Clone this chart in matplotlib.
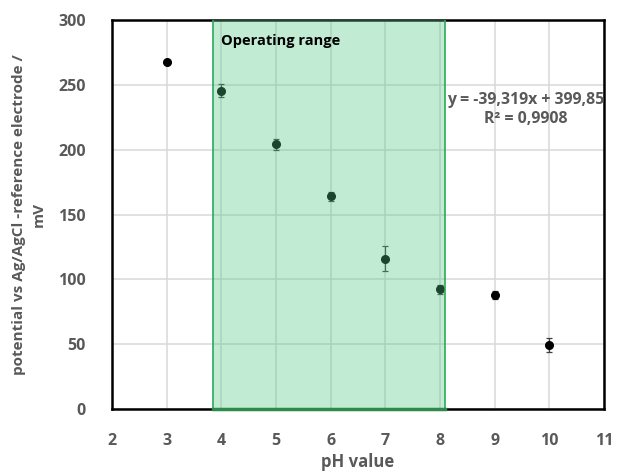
import numpy as np
import matplotlib.pyplot as plt
from matplotlib.patches import Rectangle

# data
ph = [3, 4, 5, 6, 7, 8, 9, 10]
potential = [268, 245.5, 204, 164, 116, 92.5, 88, 49.5]
err = [0, 5, 4, 3.5, 9.5, 3.5, 3, 5.5]
range_lo = 3.85  # operating range limits
range_hi = 8.1
fit_text = "y = -39,319x + 399,85\nR² = 0,9908"

plt.rcParams['font.family'] = ['Open Sans', 'DejaVu Sans']
grey = '#595959'

fig = plt.figure(figsize=(6.17, 4.73), dpi=100)
ax = fig.add_axes([0.1815, 0.1353, 0.7975, 0.8224])

# measured points with error bars
ax.errorbar(ph, potential, yerr=err, fmt='o', color='black', ms=5.5,
            ecolor='#404040', elinewidth=0.9, capsize=2.5, capthick=0.9, zorder=3)

# shaded operating range drawn on top of points (like the original)
rect = Rectangle((range_lo, 0), range_hi - range_lo, 300, facecolor='#4fc882',
                 alpha=0.35, edgecolor='none', zorder=4)
ax.add_patch(rect)
ax.plot([range_lo, range_lo], [0, 300], color='#2ea85a', lw=1.2, zorder=5)
ax.plot([range_hi, range_hi], [0, 300], color='#2ea85a', lw=1.2, zorder=5)
ax.plot([range_lo, range_hi], [0, 0], color='#2e8a4a', lw=2.5, zorder=6, clip_on=False)

ax.text(range_lo + 0.15, 284, "Operating range", fontsize=10.5, fontweight='bold',
        color='black', va='center', ha='left', zorder=7)
ax.text(9.56, 231, fit_text, fontsize=11.4, fontweight='bold', color=grey,
        ha='center', va='center', linespacing=1.3, zorder=7)

ax.set_xlim(2, 11)
ax.set_ylim(0, 300)
ax.set_xticks(np.arange(2, 12, 1))
ax.set_yticks(np.arange(0, 350, 50))
ax.grid(True, color='#d9d9d9', lw=1.1, zorder=0)
ax.set_axisbelow(True)
ax.tick_params(length=0, labelsize=11.5, labelcolor=grey)
ax.tick_params(axis='x', pad=17)
ax.tick_params(axis='y', pad=19)
for lab in ax.get_xticklabels() + ax.get_yticklabels():
    lab.set_fontweight('bold')
for s in ax.spines.values():
    s.set_color('black')
    s.set_linewidth(1.8)

ax.set_xlabel("pH value", fontsize=12, fontweight='bold', color=grey, labelpad=3)
ax.set_ylabel("potential vs Ag/AgCl -reference electrode /\nmV", fontsize=11,
              fontweight='bold', color=grey, labelpad=9, linespacing=1.45)

fig.savefig("out.png", dpi=100)
